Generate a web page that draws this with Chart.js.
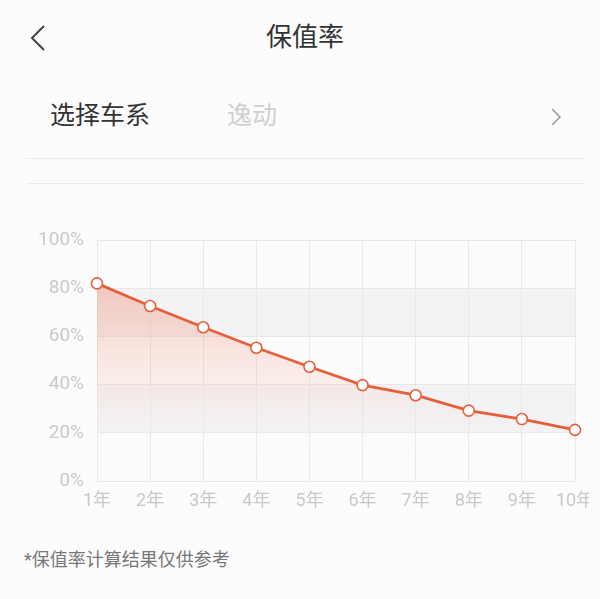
<!DOCTYPE html>
<html lang="zh">
<head>
<meta charset="UTF-8">
<title>保值率</title>
<script src="https://cdn.jsdelivr.net/npm/chart.js@4.4.0/dist/chart.umd.min.js"></script>
<style>
    body{ margin:0; width:600px; height:599px; background:#fcfcfd; position:relative; overflow:hidden;
          font-family:Roboto,"Noto Sans CJK SC",sans-serif; }
    .t{ position:absolute; white-space:nowrap; }
    #title{ left:0; width:610px; top:20px; text-align:center; font-size:26px; color:#333; line-height:34px; }
    #lab{ left:50px; top:100px; font-size:25px; color:#333; line-height:32px; }
    #car{ left:227px; top:100px; font-size:25px; color:#cfcfd2; line-height:32px; }
    .hr{ position:absolute; height:1px; background:#ececee; }
    #note{ left:24px; top:548px; font-size:18px; color:#777; line-height:24px; }
    #board{ position:absolute; left:0; top:220px; width:589px; height:310px; }
</style>
</head>
<body>
    <svg class="t" style="left:28px;top:24px" width="20" height="28"><polyline points="16,2 4,14 16,26" fill="none" stroke="#444" stroke-width="2"/></svg>
    <div class="t" id="title">保值率</div>
    <div class="t" id="lab">选择车系</div>
    <div class="t" id="car">逸动</div>
    <svg class="t" style="left:550px;top:107px" width="12" height="20"><polyline points="2,2 10,10 2,18" fill="none" stroke="#999" stroke-width="1.5"/></svg>
    <div class="hr" style="left:25px;width:560px;top:158px"></div>
    <div class="hr" style="left:27px;width:558px;top:183px"></div>
    <div id="board"><canvas id="chart1"></canvas></div>
    <div class="t" id="note">*保值率计算结果仅供参考</div>
<script>
    const years = ['1年','2年','3年','4年','5年','6年','7年','8年','9年','10年'];
    const rates = [82, 72.6, 63.8, 55.3, 47.4, 39.8, 35.6, 29.2, 25.7, 21.2];
    const yTicks = [0, 20, 40, 60, 80, 100];
    const bands = [[20, 40], [60, 80]]; // 회색 띠

    const bandPlugin = {
        id:'bands',
        beforeDraw(chart){
            const {ctx, chartArea, scales} = chart;
            ctx.save();
            ctx.fillStyle = '#f3f3f5';
            bands.forEach(b => {
                const y1 = scales.y.getPixelForValue(b[1]);
                const y0 = scales.y.getPixelForValue(b[0]);
                ctx.fillRect(chartArea.left, y1, chartArea.right - chartArea.left, y0 - y1);
            });
            ctx.restore();
        }
    };

    const ctx = document.getElementById('chart1').getContext('2d');
    new Chart(ctx, {
        type:'line',
        data:{
            labels:years,
            datasets:[{
                data:rates,
                borderColor:'#e5603a',
                borderWidth:2.8,
                tension:0,
                fill:'origin',
                backgroundColor(c){
                    const a = c.chart.chartArea;
                    if(!a) return 'rgba(240,130,100,0.25)';
                    const g = c.chart.ctx.createLinearGradient(0, a.top + 40, 0, a.bottom - 15);
                    g.addColorStop(0, 'rgba(236,115,85,0.36)');
                    g.addColorStop(0.5, 'rgba(245,150,120,0.16)');
                    g.addColorStop(1, 'rgba(255,255,255,0)');
                    return g;
                },
                pointRadius:5.5,
                pointHoverRadius:5.5,
                pointBackgroundColor:'#ffffff',
                pointBorderColor:'#e5603a',
                pointBorderWidth:1.6
            }]
        },
        options:{
            responsive:true,
            maintainAspectRatio:false,
            animation:false,
            layout:{ autoPadding:false, padding:{ top:20, right:14, bottom:0, left:0 } },
            plugins:{ legend:{ display:false }, tooltip:{ enabled:false } },
            scales:{
                x:{
                    offset:false,
                    grid:{ color:'#e8e8eb', drawTicks:false },
                    border:{ color:'#e8e8eb' },
                    ticks:{ color:'#c8c8cb', padding:10, maxRotation:0, autoSkip:false,
                            font:{ size:18, family:'Roboto, "Noto Sans CJK SC"' } },
                    afterFit(s){ s.height = 49; s.paddingLeft = 0; s.paddingRight = 0; }
                },
                y:{
                    min:0, max:100,
                    afterBuildTicks(s){ s.ticks = yTicks.map(v => ({ value:v })); },
                    grid:{ color:'#e8e8eb', drawTicks:false },
                    border:{ color:'#e8e8eb' },
                    ticks:{ color:'#c8c8cb', padding:13, callback:v => v + '%',
                            font:{ size:19, family:'Roboto, "Noto Sans CJK SC"' } },
                    afterFit(s){ s.width = 97; s.paddingTop = 0; s.paddingBottom = 0; }
                }
            }
        },
        plugins:[bandPlugin]
    });
</script>
</body>
</html>
